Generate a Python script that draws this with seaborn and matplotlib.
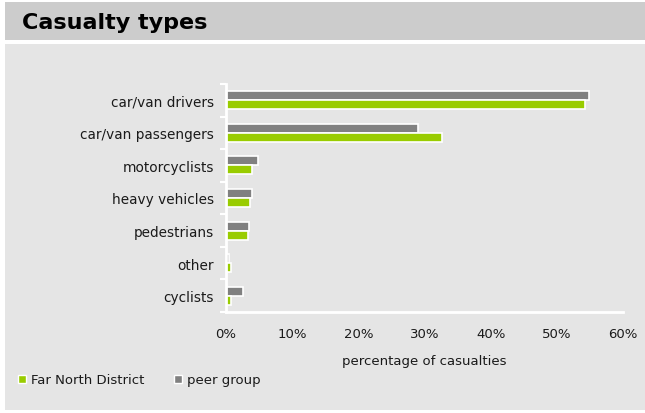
import matplotlib
matplotlib.use("Agg")
import matplotlib.pyplot as plt
from matplotlib.patches import Rectangle, Patch
from matplotlib.ticker import FuncFormatter, FixedLocator
import seaborn as sns
import pandas as pd

# Casualty categories and percentage shares
categories = ["car/van drivers", "car/van passengers", "motorcyclists",
              "heavy vehicles", "pedestrians", "other", "cyclists"]
far_north = [54.2, 32.6, 4.0, 3.6, 3.3, 0.8, 0.7]
peer_group = [54.8, 29.0, 4.9, 4.0, 3.5, 0.4, 2.5]
series_names = ["Far North District", "peer group"]
x_ticks = [0, 10, 20, 30, 40, 50, 60]

GREEN = "#99cc00"
GREY = "#808080"
PANEL = "#e5e5e5"
BAND = "#cccccc"
TEXT = "#1a1a1a"

df = pd.DataFrame({
    "category": categories * 2,
    "value": far_north + peer_group,
    "series": [series_names[0]] * len(categories) + [series_names[1]] * len(categories),
})

sns.set_theme(style="white")
plt.rcParams["font.family"] = ["DejaVu Sans"]

W, H = 645, 414
fig = plt.figure(figsize=(W / 100, H / 100), dpi=100)
fig.patch.set_facecolor("white")

def px_rect(x0, y0, x1, y1, color):
    fig.patches.append(Rectangle((x0 / W, 1 - y1 / H), (x1 - x0) / W, (y1 - y0) / H,
                                 transform=fig.transFigure, facecolor=color,
                                 edgecolor="none", zorder=-10))

# header band and chart panel
px_rect(5, 3, W, 41, BAND)
px_rect(5, 45, W, 411, PANEL)
fig.text(22 / W, 1 - 23 / H, "Casualty types", fontsize=16, fontweight="bold",
         color="black", va="center", ha="left")

ax = fig.add_axes([226 / W, 1 - 313 / H, (623 - 226) / W, (313 - 85) / H])
ax.set_facecolor(PANEL)

sns.barplot(data=df, y="category", x="value", hue="series", order=categories,
            hue_order=[series_names[1], series_names[0]],
            palette={series_names[0]: GREEN, series_names[1]: GREY},
            orient="h", width=0.55, edgecolor="white", linewidth=1.2,
            saturation=1, legend=False, ax=ax)

ax.set_xlim(0, 60)
ax.set_ylim(len(categories) - 0.5, -0.5)
ax.xaxis.set_major_locator(FixedLocator(x_ticks))
ax.xaxis.set_major_formatter(FuncFormatter(lambda v, p: f"{v:.0f}%"))
ax.tick_params(axis="x", length=0, pad=11, labelsize=9.5, colors=TEXT)
ax.tick_params(axis="y", which="major", length=0, pad=8.5, labelsize=9.8, colors=TEXT)
ax.yaxis.set_minor_locator(FixedLocator([i - 0.5 for i in range(len(categories) + 1)]))
ax.tick_params(axis="y", which="minor", left=True, length=4, width=1.5,
               color="white", direction="out")
ax.set_ylabel("")
ax.set_xlabel("percentage of casualties", fontsize=9.5, color=TEXT, labelpad=10)

for side in ("top", "right"):
    ax.spines[side].set_visible(False)
for side in ("left", "bottom"):
    ax.spines[side].set_color("white")
    ax.spines[side].set_linewidth(2)

handles = [Patch(facecolor=GREEN, edgecolor="white", linewidth=1),
           Patch(facecolor=GREY, edgecolor="white", linewidth=1)]
fig.legend(handles, series_names, loc="center left", bbox_to_anchor=(18 / W, 1 - 381 / H),
           ncol=2, frameon=False, fontsize=9.5, handlelength=0.6, handleheight=0.6,
           handletextpad=0.4, columnspacing=2.2, borderaxespad=0, borderpad=0,
           labelcolor=TEXT)

fig.savefig("out.png", dpi=100, facecolor=fig.get_facecolor())
